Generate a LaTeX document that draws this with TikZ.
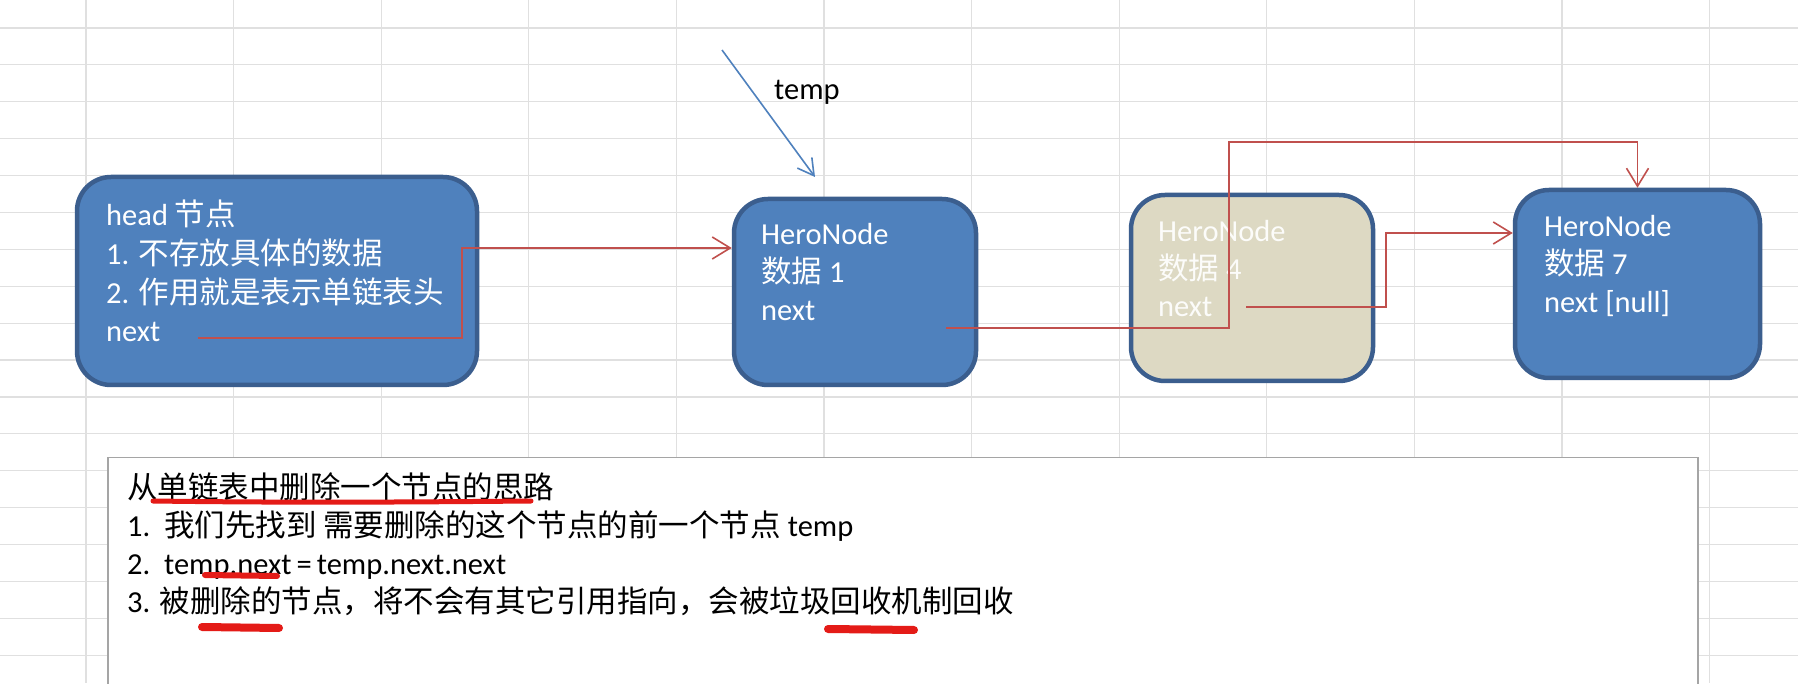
\documentclass[tikz,border=0pt]{standalone}
\usepackage{fontspec}
\setmainfont{Carlito}
\newfontfamily\cjk{Noto Sans CJK SC}
\usetikzlibrary{arrows.meta}
\definecolor{gridc}{HTML}{E0E0E0}
\definecolor{boxblue}{HTML}{4F81BD}
\definecolor{boxedge}{HTML}{3B5E8E}
\definecolor{beige}{HTML}{DDD9C3}
\definecolor{linkred}{HTML}{C0504D}
\definecolor{markred}{HTML}{E41B17}
\definecolor{tbedge}{HTML}{A5A5A5}
\begin{document}
\begin{tikzpicture}[x=1pt,y=1pt,
  hero/.style={draw=boxedge, line width=4.5pt, rounded corners=34pt, inner sep=0pt},
  bluebox/.style={hero, fill=boxblue},
  deadbox/.style={hero, fill=beige},
  txt/.style={anchor=base west, inner sep=0pt, font=\fontsize{30.5}{36}\selectfont},
  wtxt/.style={txt, text=white},
  link/.style={draw=linkred, line width=1.6pt, -{Straight Barb[length=18pt,width=22pt,line width=1.6pt]}},
  tmplink/.style={draw=boxblue, line width=1.6pt, -{Straight Barb[length=16pt,width=18pt,line width=1.6pt]}},
  redmark/.style={draw=markred, line cap=round},
  gridline/.style={draw=gridc, line width=1.2pt}
]
\useasboundingbox (0,0) rectangle (1798,683);
\fill[white] (0,0) rectangle (1798,683);
% grid
\foreach \i in {0,...,11} \draw[gridline] (86+147.6*\i,0) -- ++(0,683);
\foreach \j in {0,...,17} \draw[gridline] (0,655-36.9*\j) -- ++(1798,0);

% boxes
\node[bluebox, minimum width=400pt, minimum height=208pt] (head) at (277,402) {};
\node[bluebox, minimum width=242pt, minimum height=186pt] (n1) at (855,391) {};
\node[deadbox, minimum width=242pt, minimum height=186pt] (n4) at (1252,395) {};
\node[bluebox, minimum width=245pt, minimum height=188pt] (n7) at (1637.5,399) {};

% head text
\node[wtxt] (h1) at (106,457) {head {\cjk 节点}};
\node[wtxt] (h2) at (106,418) {1. {\cjk 不存放具体的数据}};
\node[wtxt] (h3) at (106,379) {2. {\cjk 作用就是表示单链表头}};
\node[wtxt] (h4) at (106,341) {next};
% node 1
\node[wtxt] (a1) at (761,438) {HeroNode};
\node[wtxt] (a2) at (761,400) {{\cjk 数据} 1};
\node[wtxt] (a3) at (761,362) {next};
% node 4
\node[wtxt, text=white!92!beige] (b1) at (1158,441) {HeroNode};
\node[wtxt, text=white!92!beige] (b2) at (1158,403) {{\cjk 数据} 4};
\node[wtxt, text=white!92!beige] (b3) at (1158,366) {next};
% node 7
\node[wtxt] (c1) at (1544,446) {HeroNode};
\node[wtxt] (c2) at (1544,408) {{\cjk 数据} 7};
\node[wtxt] (c3) at (1544,370) {next [null]};

% temp pointer
\node[txt] (templbl) at (774,583) {temp};
\coordinate (t0) at (722,633);
\coordinate (t1) at (815,506);
\draw[tmplink] (t0) -- (t1);

% red links
\coordinate (p0) at (198,345);
\coordinate (p1) at (462,435);
\draw[link] (p0) -| (p1) -- (p1 -| n1.west);
\coordinate (q0) at (946,355);
\coordinate (q1) at (1229,541);
\draw[link] (q0) -| (q1) -| (n7.north);
\coordinate (r0) at (1246,376);
\coordinate (r1) at (1386,450);
\draw[link] (r0) -| (r1) -- (r1 -| n7.west);

% text box
\node[draw=tbedge, fill=white, line width=1.5pt, anchor=north west, minimum width=1590pt, minimum height=250pt, inner sep=0pt] (tb) at (107,226) {};
\node[txt] (l1) at (127,185) {\cjk 从单链表中删除一个节点的思路};
\node[txt] (l2) at (127,147) {1.\ \ {\cjk 我们先找到 需要删除的这个节点的前一个节点} temp};
\node[txt] (l3) at (127,109) {2.\ \ temp.next\,=\,temp.next.next};
\node[txt] (l4) at (127,71) {3. {\cjk 被删除的节点，将不会有其它引用指向，会被垃圾回收机制回收}};

% red hand underlines
\draw[redmark, line width=5pt] (153,182) .. controls (300,180) and (420,181) .. (531,182);
\draw[redmark, line width=6pt] (205,108) -- (277,107);
\draw[redmark, line width=8pt] (202,56) -- (279,55);
\draw[redmark, line width=8pt] (828,54) -- (914,53);
\end{tikzpicture}
\end{document}
